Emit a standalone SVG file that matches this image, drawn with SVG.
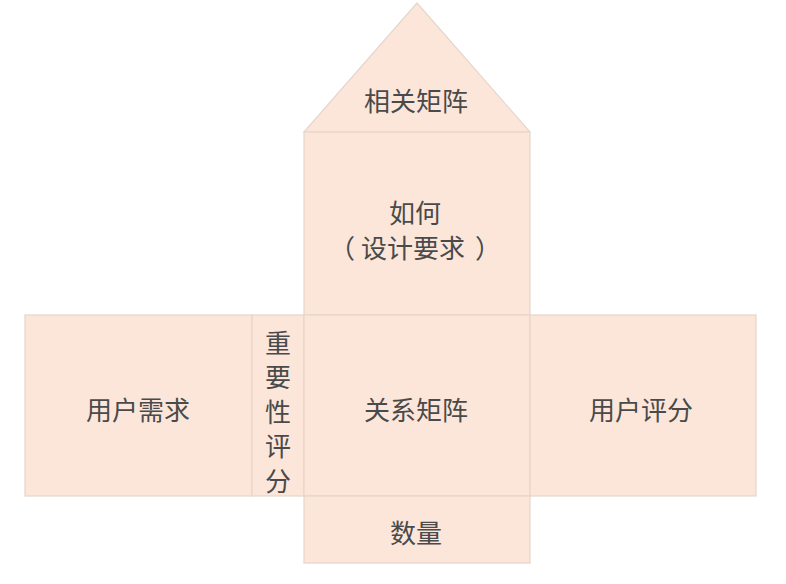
<svg xmlns="http://www.w3.org/2000/svg" width="786" height="584" viewBox="0 0 786 584">
<style>
.b{fill:#fce6da;stroke:#e6d6cc;stroke-width:1.2}
.t{font-family:"Noto Sans CJK SC","Noto Sans",sans-serif;font-size:26px;fill:#4a4a4a;text-anchor:middle;dominant-baseline:central}
.v{font-family:"Noto Sans CJK SC","Noto Sans",sans-serif;font-size:26px;fill:#4a4a4a;writing-mode:vertical-rl;letter-spacing:8.5px}
</style>
<rect x="0" y="0" width="786" height="584" fill="#ffffff"/>
<g id="roof"><polygon class="b" points="417,3 304,132 530,132"/><text class="t" x="416" y="99">相关矩阵</text></g>
<g id="how"><rect class="b" x="304" y="132" width="226" height="183"/><text class="t" x="415" y="211">如何</text><text class="t" x="342" y="246">（</text><text class="t" x="413" y="246">设计要求</text><text class="t" x="488" y="246">）</text></g>
<g id="needs"><rect class="b" x="25" y="315" width="227" height="181"/><text class="t" x="138" y="408">用户需求</text></g>
<g id="importance"><rect class="b" x="252" y="315" width="52" height="181"/><text class="v" x="278" y="330">重要性评分</text></g>
<g id="relation"><rect class="b" x="304" y="315" width="226" height="181"/><text class="t" x="416" y="408">关系矩阵</text></g>
<g id="rating"><rect class="b" x="530" y="315" width="226" height="181"/><text class="t" x="641" y="408">用户评分</text></g>
<g id="quantity"><rect class="b" x="304" y="496" width="226" height="67"/><text class="t" x="416" y="531">数量</text></g>
<g id="connectors"></g>
</svg>
